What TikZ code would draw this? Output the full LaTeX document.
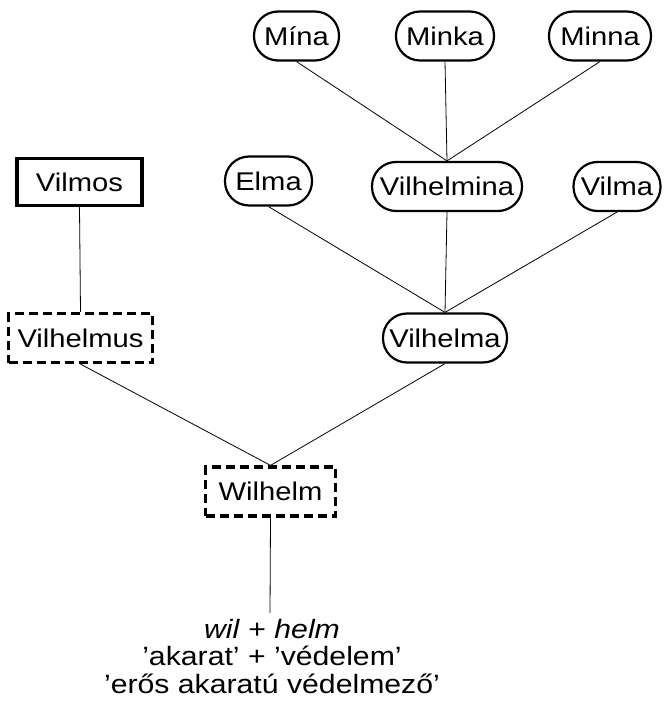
\documentclass[tikz,border=0pt]{standalone}
\usepackage{fontspec}
\setmainfont{Liberation Sans}[FakeStretch=1.14]
\begin{document}
\begin{tikzpicture}[x=1pt,y=-1pt,
  base/.style={minimum height=49pt,inner xsep=3pt,inner ysep=0pt,font=\fontsize{25.6}{28}\selectfont},
  roundbox/.style={base,draw,line width=2.2pt,rounded corners=24pt},
  solidbox/.style={base,draw,line width=3.5pt,minimum height=47pt},
  dashbox/.style={base,draw,line width=3.2pt,dash pattern=on 9pt off 5pt},
  link/.style={draw,line width=0.8pt}]
\useasboundingbox (0,0) rectangle (663,708);
\node[roundbox,minimum width=85pt] (mina) at (296.5,36) {Mína};
\node[roundbox,minimum width=98pt] (minka) at (445,36) {Minka};
\node[roundbox,minimum width=102pt] (minna) at (600,36) {Minna};
\node[roundbox,minimum width=87pt] (elma) at (268.5,181) {Elma};
\node[roundbox,minimum width=150pt] (vilhelmina) at (447,186.5) {Vilhelmina};
\node[roundbox,minimum width=87pt] (vilma) at (617,186.5) {Vilma};
\node[roundbox,minimum width=124pt] (vilhelma) at (445,338) {Vilhelma};
\node[solidbox,minimum width=125pt] (vilmos) at (79.5,182) {Vilmos};
\node[dashbox,minimum width=144pt] (vilhelmus) at (80.5,338) {Vilhelmus};
\node[dashbox,minimum width=130pt] (wilhelm) at (270.5,491.5) {Wilhelm};
\node[align=center,anchor=north,inner xsep=0pt,inner ysep=0pt,font=\fontsize{26.5}{27.5}\selectfont] (etym) at (272,619)
  {\textit{wil} + \textit{helm}\\'akarat’ + ’védelem’\\'erős akaratú védelmező’};
\draw[link] (mina.south) -- (vilhelmina.north);
\draw[link] (minka.south) -- (vilhelmina.north);
\draw[link] (minna.south) -- (vilhelmina.north);
\draw[link] (elma.south) -- (vilhelma.north);
\draw[link] (vilhelmina.south) -- (vilhelma.north);
\draw[link] (vilma.south) -- (vilhelma.north);
\draw[link] (vilmos.south) -- (vilhelmus.north);
\draw[link] (vilhelmus.south) -- (wilhelm.north);
\draw[link] (vilhelma.south) -- (wilhelm.north);
\draw[link] (wilhelm.south) -- ([xshift=-2pt,yshift=6pt]etym.north);
\end{tikzpicture}
\end{document}
